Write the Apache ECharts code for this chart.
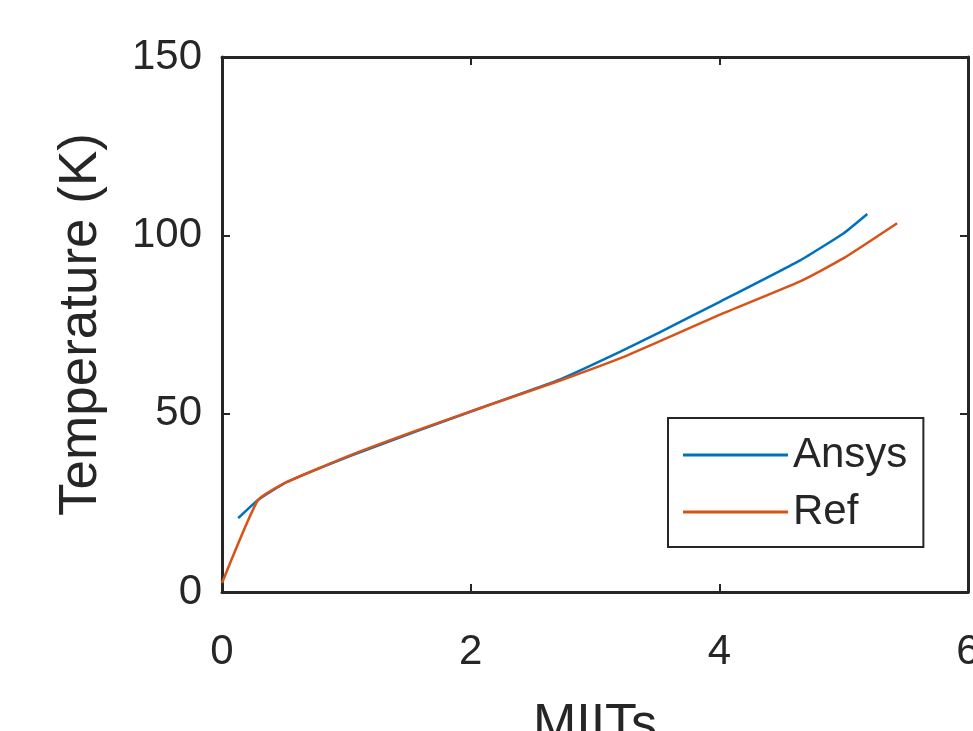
<!DOCTYPE html>
<html>
<head>
<meta charset="utf-8">
<title>Temperature vs MIITs</title>
<script src="https://cdn.jsdelivr.net/npm/echarts@6/dist/echarts.min.js"></script>
<style>
	html, body {
		margin: 0;
		padding: 0;
		background: #fff;
	}
	#chart {
		width: 973px;
		height: 731px;
	}
</style>
</head>
<body>
<div id="chart"></div>

<script type="text/javascript">
	// 数据
	var ansysX = [0.13, 0.29, 0.52, 1.05, 1.59, 2.08, 2.72, 3.2, 3.52, 4.0, 4.65, 5.0, 5.19];
	var ansysY = [20.7, 25.8, 30.8, 38.4, 45.4, 51.6, 59.6, 67.3, 72.8, 81.3, 93.0, 100.6, 106.0];
	var refX = [0.0, 0.29, 0.52, 1.05, 1.59, 2.08, 2.72, 3.2, 3.5, 4.0, 4.65, 5.0, 5.43];
	var refY = [2.5, 25.8, 30.8, 38.6, 45.6, 51.6, 59.3, 65.5, 70.0, 77.7, 87.1, 93.6, 103.4];
	var xTicks = [0, 2, 4, 6];
	var yTicks = [0, 50, 100, 150];

	var textColor = '#262626';
	var font = '"Liberation Sans", Arial, Helvetica, sans-serif';

	function pairs(xs, ys) {
		var out = [];
		for (var i = 0; i < xs.length; i++) {
			out.push([xs[i], ys[i]]);
		}
		return out;
	}

	// 边框轴（只画线和刻度）
	function frameAxis(pos) {
		var isX = pos === 'top';
		return {
			type: 'value',
			position: pos,
			min: 0,
			max: isX ? xTicks[xTicks.length - 1] : yTicks[yTicks.length - 1],
			interval: isX ? 2 : 50,
			axisLine: { show: true, onZero: false, lineStyle: { color: textColor, width: 3 } },
			axisTick: { show: true, inside: true, length: 8, lineStyle: { color: textColor, width: 2 } },
			axisLabel: { show: false },
			splitLine: { show: false }
		};
	}

	var chart = echarts.init(document.getElementById('chart'));
	chart.setOption({
		animation: false,
		backgroundColor: '#fff',
		grid: { left: 222, top: 57, right: 5, bottom: 139, containLabel: false, outerBoundsMode: 'none' },
		legend: {
			orient: 'vertical',
			left: 668,
			top: 418,
			padding: [16, 16, 14, 15],
			icon: 'rect',
			itemWidth: 105,
			itemHeight: 3,
			itemGap: 15,
			borderColor: textColor,
			borderWidth: 2,
			backgroundColor: '#fff',
			textStyle: { fontSize: 42, lineHeight: 42, color: textColor, fontFamily: font },
			data: ['Ansys', 'Ref']
		},
		xAxis: [{
			type: 'value',
			min: xTicks[0],
			max: xTicks[xTicks.length - 1],
			interval: 2,
			name: 'MIITs',
			nameLocation: 'middle',
			nameGap: 108,
			nameTextStyle: { fontSize: 52, color: textColor, fontFamily: font },
			axisLine: { show: true, onZero: false, lineStyle: { color: textColor, width: 3 } },
			axisTick: { show: true, inside: true, length: 8, lineStyle: { color: textColor, width: 2 } },
			axisLabel: { fontSize: 42, color: textColor, fontFamily: font, margin: 39 },
			splitLine: { show: false }
		}, frameAxis('top')],
		yAxis: [{
			type: 'value',
			min: yTicks[0],
			max: yTicks[yTicks.length - 1],
			interval: 50,
			name: 'Temperature (K)',
			nameLocation: 'middle',
			nameGap: 114,
			nameTextStyle: { fontSize: 53, color: textColor, fontFamily: font },
			axisLine: { show: true, onZero: false, lineStyle: { color: textColor, width: 3 } },
			axisTick: { show: true, inside: true, length: 8, lineStyle: { color: textColor, width: 2 } },
			axisLabel: { fontSize: 42, color: textColor, fontFamily: font, margin: 20 },
			splitLine: { show: false }
		}, frameAxis('right')],
		series: [{
			name: 'Ansys',
			type: 'line',
			symbol: 'none',
			smooth: 0.15,
			lineStyle: { color: '#0072BD', width: 2.5 },
			itemStyle: { color: '#0072BD' },
			data: pairs(ansysX, ansysY)
		}, {
			name: 'Ref',
			type: 'line',
			symbol: 'none',
			smooth: 0.15,
			lineStyle: { color: '#D95319', width: 2.5 },
			itemStyle: { color: '#D95319' },
			data: pairs(refX, refY)
		}]
	});

	// 页面缩放时重新渲染
	window.addEventListener('resize', function () {
		chart.resize();
	});
</script>
</body>
</html>
